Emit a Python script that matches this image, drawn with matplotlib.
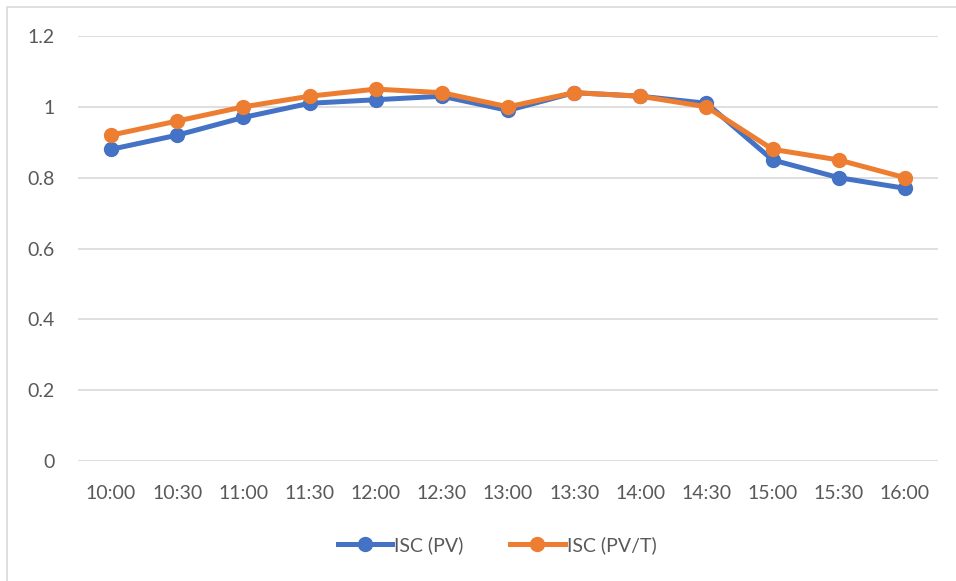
import matplotlib
matplotlib.use("Agg")
import matplotlib.pyplot as plt
from matplotlib.lines import Line2D

times = ["10:00", "10:30", "11:00", "11:30", "12:00", "12:30", "13:00",
         "13:30", "14:00", "14:30", "15:00", "15:30", "16:00"]
isc_pv = [0.88, 0.92, 0.97, 1.01, 1.02, 1.03, 0.99, 1.04, 1.03, 1.01, 0.85, 0.80, 0.77]
isc_pvt = [0.92, 0.96, 1.00, 1.03, 1.05, 1.04, 1.00, 1.04, 1.03, 1.00, 0.88, 0.85, 0.80]
yticks = [0, 0.2, 0.4, 0.6, 0.8, 1, 1.2]
ytick_labels = ["0", "0.2", "0.4", "0.6", "0.8", "1", "1.2"]

plt.rcParams['font.family'] = ['Lato', 'DejaVu Sans']

W, H = 956, 581
fig = plt.figure(figsize=(W / 100, H / 100), dpi=100)
fig.patch.set_facecolor("white")

# outer chart border
fig.add_artist(plt.Rectangle((7 / W, -0.1), 1.2, 1 - 7 / H + 0.1, transform=fig.transFigure,
                             fill=False, edgecolor="#D9D9D9", linewidth=1.2))

ax = fig.add_axes([78 / W, 1 - 461 / H, 860 / W, 425 / H])
x = list(range(len(times)))
blue = "#4472C4"
orange = "#ED7D31"
ax.plot(x, isc_pv, color=blue, lw=3.6, marker="o", ms=10, label="ISC (PV)", zorder=3)
ax.plot(x, isc_pvt, color=orange, lw=3.6, marker="o", ms=10, label="ISC (PV/T)", zorder=4)

ax.set_xlim(-0.5, len(times) - 0.5)
ax.set_ylim(0, 1.2)
ax.set_yticks(yticks)
ax.set_yticklabels(ytick_labels)
ax.set_xticks(x)
ax.set_xticklabels(times)
ax.grid(axis="y", color="#D9D9D9", linewidth=1.2)
ax.set_axisbelow(True)
for s in ax.spines.values():
    s.set_visible(False)
ax.tick_params(axis="both", length=0, labelsize=14, colors="#595959")
ax.tick_params(axis="x", pad=17)
ax.tick_params(axis="y", pad=17)
ax.set_facecolor("white")

handles = [Line2D([0], [0], color=blue, lw=3.6, marker="o", ms=10),
           Line2D([0], [0], color=orange, lw=3.6, marker="o", ms=10)]
fig.legend(handles, ["ISC (PV)", "ISC (PV/T)"], loc="center", bbox_to_anchor=(497 / W, 1 - 545 / H),
           ncol=2, frameon=False, fontsize=14, labelcolor="#595959",
           handlelength=2.8, handletextpad=0.1, columnspacing=2.4)

fig.savefig("out.png", dpi=100, facecolor="white")
